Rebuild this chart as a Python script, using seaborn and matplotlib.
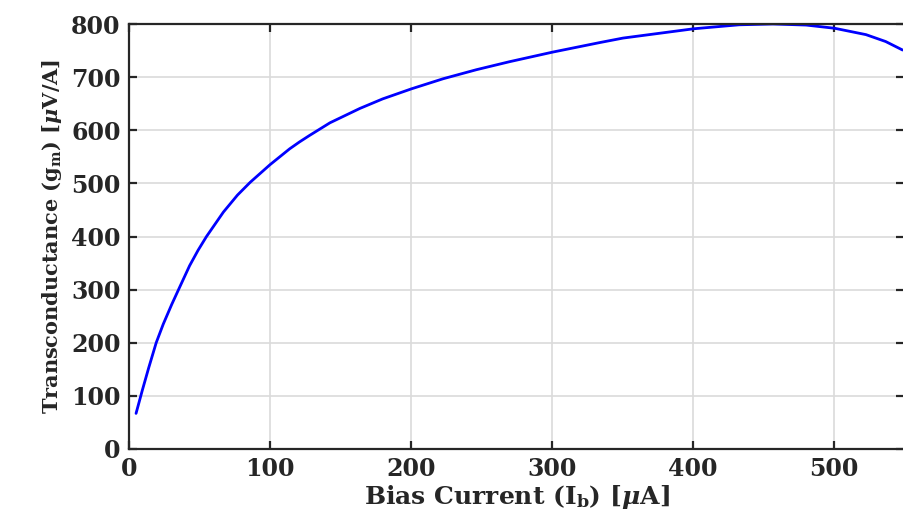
import matplotlib
matplotlib.use("Agg")
import matplotlib.pyplot as plt
import seaborn as sns
import pandas as pd

# Data
bias_current = [5, 9.5, 14, 19.3, 24.3, 30.3, 35.5, 43, 49, 55, 67, 77, 86, 100, 107, 114, 121,
                128, 142.6, 163.8, 180, 200.5, 223, 246.6, 270, 300.5, 334, 350.6, 400.7, 433,
                457, 480.6, 500.7, 523, 537, 549]
transconductance = [67, 111, 153, 200, 235, 272, 302, 345, 374, 400, 446, 478, 502, 535, 550,
                    565, 578, 590, 614, 641, 659, 678, 697, 714, 729, 747, 765, 773.5, 791, 798.5,
                    800, 798, 792, 780, 767, 751]
x_ticks = [0, 100, 200, 300, 400, 500]
y_ticks = [0, 100, 200, 300, 400, 500, 600, 700, 800]

df = pd.DataFrame({"Ib": bias_current, "gm": transconductance})

sns.set_theme(style="white")
plt.rcParams["font.family"] = ["DejaVu Serif"]
plt.rcParams["mathtext.fontset"] = "custom"
plt.rcParams["mathtext.rm"] = "DejaVu Serif:bold"
plt.rcParams["mathtext.it"] = "DejaVu Serif:italic:bold"
plt.rcParams["mathtext.bf"] = "DejaVu Serif:bold"

fig = plt.figure(figsize=(9.04, 5.22), dpi=100)
ax = fig.add_axes([129 / 904, 1 - 449 / 522, 1 - 129 / 904, (449 - 24) / 522])

sns.lineplot(data=df, x="Ib", y="gm", ax=ax, color="#0000ff", linewidth=2)

ax.set_xlim(0, 550)
ax.set_ylim(0, 800)
ax.set_xticks(x_ticks)
ax.set_yticks(y_ticks)
ax.grid(True, color="#dadada", linewidth=1.2)
ax.set_axisbelow(True)

for side in ["left", "bottom", "top"]:
    ax.spines[side].set_visible(True)
    ax.spines[side].set_color("#262626")
    ax.spines[side].set_linewidth(1.6)
ax.spines["right"].set_visible(False)

ax.tick_params(direction="in", length=6, width=1.6, colors="#262626",
               top=True, right=True, left=True, bottom=True, labelsize=17, pad=6)
for lab in ax.get_xticklabels() + ax.get_yticklabels():
    lab.set_fontweight("bold")
    lab.set_color("#262626")

ax.set_xlabel(r"Bias Current (I$_\mathregular{b}$) [$\mu$A]", fontsize=18,
              fontweight="bold", color="#262626", labelpad=1)
ax.set_ylabel(r"Transconductance (g$_\mathregular{m}$) [$\mu$V/A]", fontsize=15,
              fontweight="bold", color="#262626", labelpad=5)

fig.savefig("out.png", dpi=100)
